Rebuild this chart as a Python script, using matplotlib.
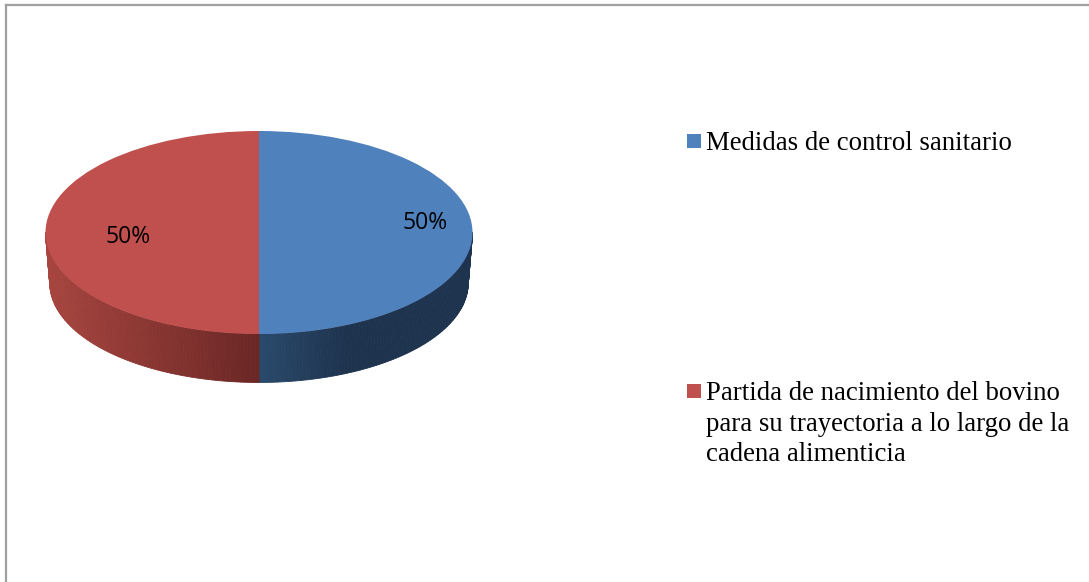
import numpy as np
import matplotlib
matplotlib.use("Agg")
import matplotlib.pyplot as plt
from matplotlib.lines import Line2D
from matplotlib.patches import Rectangle

W, H = 1089, 582

labels = ["Medidas de control sanitario",
          "Partida de nacimiento del bovino\npara su trayectoria a lo largo de la\ncadena alimenticia"]
values = [50, 50]
colors = ["#4F81BD", "#C0504D"]
# side wall shading: colour at the front centre, colour at the outer edge
side_colors = [("#2A4A6C", "#1E334E"), ("#6A2725", "#A8453F")]
side_reach = [2.4, 1.0]

fig = plt.figure(figsize=(W / 100, H / 100), dpi=100)
ax = fig.add_axes([0, 0, 1, 1])

# ellipse geometry in pixels, the axes maps the unit pie onto it
cx, cy, rx, ry = 259, 232.5, 213.5, 101.5
depth, shrink = 50.5, 0.98


def hex2rgb(c):
    return np.array(matplotlib.colors.to_rgb(c))


# side wall, drawn as thin strips following the slice angles
shares = np.array(values) / sum(values)
start = 90.0
for share, (c_front, c_edge), reach in zip(shares, side_colors, side_reach):
    end = start - share * 360
    lo, hi = min(start, end), max(start, end)
    steps = np.arange(lo, hi + 0.01, 1.0)
    for a0, a1 in zip(steps[:-1], steps[1:]):
        mid = np.radians((a0 + a1) / 2)
        if np.sin(mid) > 0:
            continue
        t = np.clip(abs(np.cos(mid)) * reach, 0, 1)
        col = hex2rgb(c_front) * (1 - t) + hex2rgb(c_edge) * t
        th = np.radians(np.array([a0, a1]))
        xt, yt = np.cos(th), np.sin(th)
        xb = xt * shrink
        yb = (yt * ry * shrink - depth) / ry
        # thin same colour edge hides the seams between strips
        ax.fill(np.r_[xt, xb[::-1]], np.r_[yt, yb[::-1]], color=col, lw=0.6)
    start = end

wedges, _, autotexts = ax.pie(values, colors=colors, startangle=90, counterclock=False,
                              autopct="%.0f%%", radius=1.0,
                              wedgeprops={"linewidth": 0},
                              textprops={"fontsize": 16.5, "family": "Open Sans", "color": "black"})
ax.set_aspect("auto")
ax.set_xlim(-cx / rx, (W - cx) / rx)
ax.set_ylim(-(H - cy) / ry, cy / ry)
ax.axis("off")

# data labels as placed in the source
autotexts[0].set_position(((425.5 - cx) / rx, (cy - 223) / ry))
autotexts[1].set_position(((128 - cx) / rx, (cy - 237) / ry))

# chart frame: only top and left show
frame = {"color": "#A0A0A0", "lw": 1.6, "transform": fig.transFigure}
fig.add_artist(Line2D([6 / W, 6 / W], [0, 1 - 5 / H], **frame))
fig.add_artist(Line2D([6 / W, 1], [1 - 5 / H, 1 - 5 / H], **frame))

# legend
legend_y = [141, 391]
for label, col, y in zip(labels, colors, legend_y):
    fig.add_artist(Rectangle((687 / W, 1 - (y + 7) / H), 14 / W, 14 / H,
                             color=col, lw=0, transform=fig.transFigure))
    fig.text(706 / W, 1 - (y - 10) / H, label, family="Liberation Serif", fontsize=19.25,
             va="top", ha="left", linespacing=1.29, color="black")

fig.savefig("out.png", dpi=100)
